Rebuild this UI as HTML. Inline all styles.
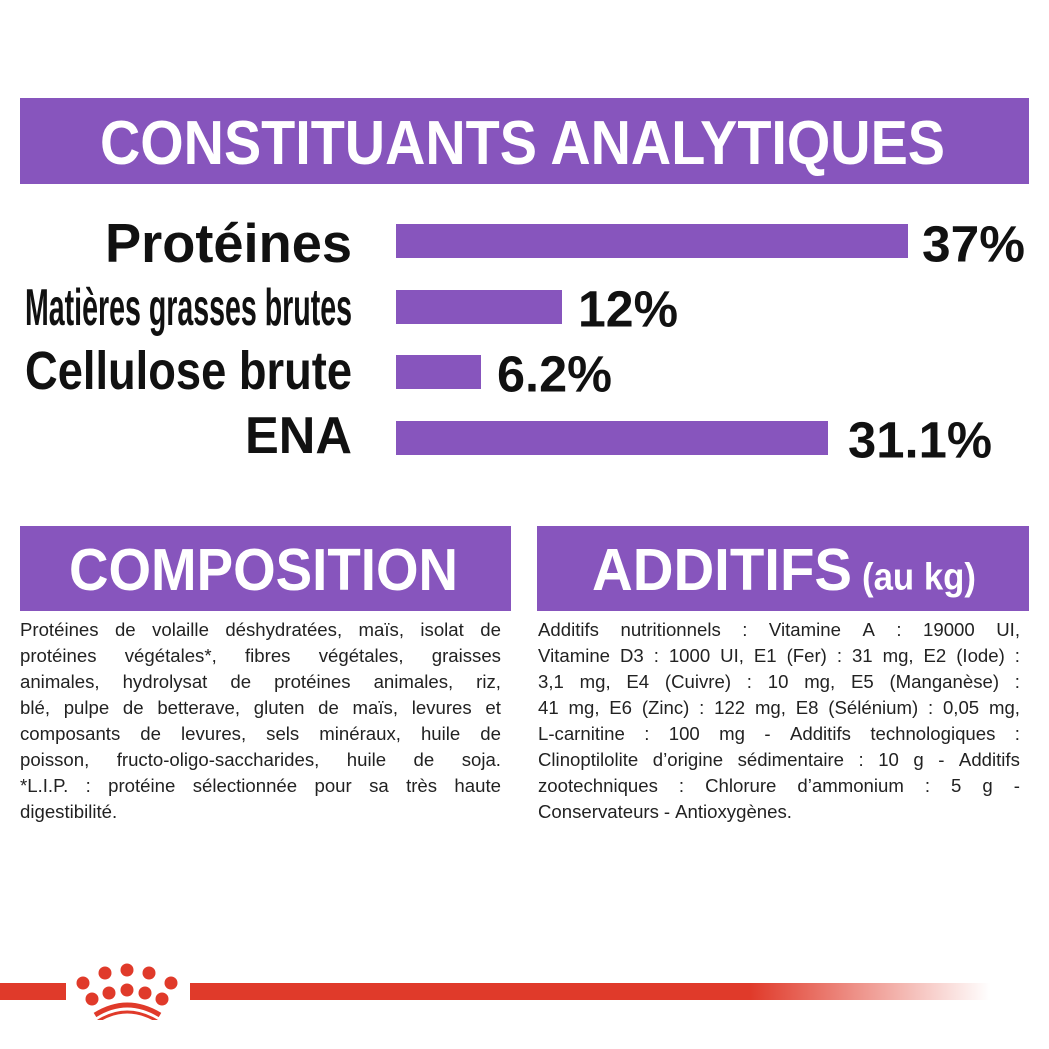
<!DOCTYPE html>
<html><head><meta charset="utf-8"><style>
body{margin:0;width:1049px;height:1049px;background:#fff;position:relative;overflow:hidden;font-family:"Liberation Sans",sans-serif}
.a{position:absolute}
.bar{position:absolute;background:#8755bd}
.fit{position:absolute;white-space:nowrap;transform-origin:0 0;line-height:1;font-weight:bold}
.t{position:absolute;font-size:18.6px;color:#222;line-height:26px}
.t div{white-space:nowrap;display:flex;justify-content:space-between}
.t div.l{justify-content:flex-start;gap:5px}
</style></head><body>
<div class="bar" style="left:20px;top:98px;width:1009px;height:86px"></div>
<div class="fit" data-x="100" data-y="120" data-w="845" data-h="45" style="color:#fff;font-size:62px">CONSTITUANTS ANALYTIQUES</div>

<div class="fit" data-x="105" data-y="222" data-w="247" data-h="40" style="font-size:56px;color:#111">Protéines</div>
<div class="fit" data-x="25" data-y="287" data-w="327" data-h="38" style="font-size:50px;color:#111">Matières grasses brutes</div>
<div class="fit" data-x="25" data-y="350" data-w="327" data-h="39" style="font-size:50px;color:#111">Cellulose brute</div>
<div class="fit" data-x="245" data-y="415" data-w="107" data-h="38" style="font-size:50px;color:#111">ENA</div>

<div class="bar" style="left:396px;top:224px;width:512px;height:34px"></div>
<div class="bar" style="left:396px;top:290px;width:166px;height:34px"></div>
<div class="bar" style="left:396px;top:355px;width:85px;height:34px"></div>
<div class="bar" style="left:396px;top:421px;width:432px;height:34px"></div>

<div class="fit" data-x="922" data-y="225" data-w="103" data-h="37" style="font-size:50px;color:#111">37%</div>
<div class="fit" data-x="578" data-y="290" data-w="100" data-h="37" style="font-size:50px;color:#111">12%</div>
<div class="fit" data-x="497" data-y="355" data-w="115" data-h="37" style="font-size:50px;color:#111">6.2%</div>
<div class="fit" data-x="848" data-y="421" data-w="144" data-h="37" style="font-size:50px;color:#111">31.1%</div>

<div class="bar" style="left:20px;top:526px;width:491px;height:85px"></div>
<div class="fit" data-x="69" data-y="548" data-w="389" data-h="43" style="color:#fff;font-size:60px">COMPOSITION</div>
<div class="bar" style="left:537px;top:526px;width:492px;height:85px"></div>
<div class="fit" data-x="592" data-y="548" data-w="260" data-h="43" style="color:#fff;font-size:60px">ADDITIFS</div>
<div class="fit" data-x="862" data-y="563" data-w="114" data-h="28" style="color:#fff;font-size:34px">(au kg)</div>

<div class="t" style="left:20px;top:617px;width:481px">
<div><span>Protéines</span><span>de</span><span>volaille</span><span>déshydratées,</span><span>maïs,</span><span>isolat</span><span>de</span></div>
<div><span>protéines</span><span>végétales*,</span><span>fibres</span><span>végétales,</span><span>graisses</span></div>
<div><span>animales,</span><span>hydrolysat</span><span>de</span><span>protéines</span><span>animales,</span><span>riz,</span></div>
<div><span>blé,</span><span>pulpe</span><span>de</span><span>betterave,</span><span>gluten</span><span>de</span><span>maïs,</span><span>levures</span><span>et</span></div>
<div><span>composants</span><span>de</span><span>levures,</span><span>sels</span><span>minéraux,</span><span>huile</span><span>de</span></div>
<div><span>poisson,</span><span>fructo-oligo-saccharides,</span><span>huile</span><span>de</span><span>soja.</span></div>
<div><span>*L.I.P.</span><span>:</span><span>protéine</span><span>sélectionnée</span><span>pour</span><span>sa</span><span>très</span><span>haute</span></div>
<div class="l"><span>digestibilité.</span></div>
</div>

<div class="t" style="left:538px;top:617px;width:482px">
<div><span>Additifs</span><span>nutritionnels</span><span>:</span><span>Vitamine</span><span>A</span><span>:</span><span>19000</span><span>UI,</span></div>
<div><span>Vitamine</span><span>D3</span><span>:</span><span>1000</span><span>UI,</span><span>E1</span><span>(Fer)</span><span>:</span><span>31</span><span>mg,</span><span>E2</span><span>(Iode)</span><span>:</span></div>
<div><span>3,1</span><span>mg,</span><span>E4</span><span>(Cuivre)</span><span>:</span><span>10</span><span>mg,</span><span>E5</span><span>(Manganèse)</span><span>:</span></div>
<div><span>41</span><span>mg,</span><span>E6</span><span>(Zinc)</span><span>:</span><span>122</span><span>mg,</span><span>E8</span><span>(Sélénium)</span><span>:</span><span>0,05</span><span>mg,</span></div>
<div><span>L-carnitine</span><span>:</span><span>100</span><span>mg</span><span>-</span><span>Additifs</span><span>technologiques</span><span>:</span></div>
<div><span>Clinoptilolite</span><span>d’origine</span><span>sédimentaire</span><span>:</span><span>10</span><span>g</span><span>-</span><span>Additifs</span></div>
<div><span>zootechniques</span><span>:</span><span>Chlorure</span><span>d’ammonium</span><span>:</span><span>5</span><span>g</span><span>-</span></div>
<div class="l"><span>Conservateurs</span><span>-</span><span>Antioxygènes.</span></div>
</div>

<div class="a" style="left:0;top:983px;width:66px;height:17px;background:#e03a2a"></div>
<div class="a" style="left:190px;top:983px;width:800px;height:17px;background:linear-gradient(90deg,#e03a2a 0%,#e03a2a 70%,rgba(224,58,42,0) 100%)"></div>
<svg class="a" style="left:70px;top:955px" width="120" height="65" viewBox="0 0 120 65">
<g fill="#e03a2a">
<circle cx="13" cy="28" r="6.5"/><circle cx="35" cy="18" r="6.5"/><circle cx="57" cy="15" r="6.5"/><circle cx="79" cy="18" r="6.5"/><circle cx="101" cy="28" r="6.5"/>
<circle cx="22" cy="44" r="6.5"/><circle cx="39" cy="38" r="6.5"/><circle cx="57" cy="35" r="6.5"/><circle cx="75" cy="38" r="6.5"/><circle cx="92" cy="44" r="6.5"/>
</g>
<path d="M25 60 Q57 40 90 60" stroke="#e03a2a" stroke-width="5" fill="none"/>
<path d="M28 66 Q57 48 87 66" stroke="#e03a2a" stroke-width="3" fill="none"/>
</svg>

<script>
document.querySelectorAll('.fit').forEach(function(e){
var r=e.getBoundingClientRect();
var w=+e.dataset.w,h=+e.dataset.h,x=+e.dataset.x,y=+e.dataset.y;
var fs=parseFloat(getComputedStyle(e).fontSize);
var cap=fs*0.729;
var sy=h/cap;
var sx=w/r.width;
var top=y-(fs*0.118)*sy;
e.style.left=x+'px';e.style.top=top+'px';
e.style.transform='scale('+sx+','+sy+')';
});
</script>
</body></html>
